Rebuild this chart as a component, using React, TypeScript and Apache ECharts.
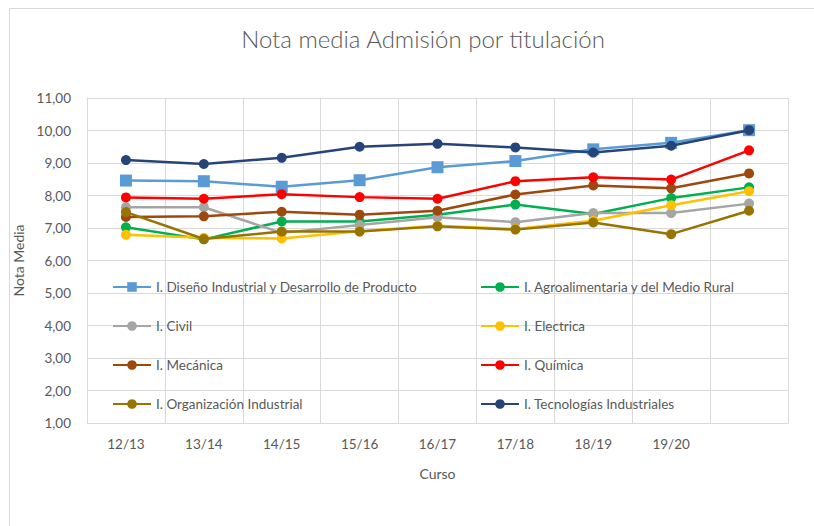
import React, { useEffect, useRef } from "react";
import * as echarts from "echarts";

const categories = ["12/13", "13/14", "14/15", "15/16", "16/17", "17/18", "18/19", "19/20", ""];

const disenoValues = [8.46, 8.44, 8.27, 8.47, 8.87, 9.06, 9.42, 9.62, 10.01];
const agroValues = [7.02, 6.65, 7.2, 7.2, 7.41, 7.72, 7.43, 7.92, 8.25];
const civilValues = [7.64, 7.64, 6.85, 7.09, 7.33, 7.18, 7.46, 7.46, 7.75];
const electricaValues = [6.79, 6.7, 6.68, 6.9, 7.07, 6.97, 7.22, 7.7, 8.13];
const mecanicaValues = [7.34, 7.36, 7.5, 7.41, 7.53, 8.03, 8.31, 8.22, 8.68];
const quimicaValues = [7.94, 7.9, 8.04, 7.95, 7.9, 8.44, 8.56, 8.49, 9.39];
const organizacionValues = [7.49, 6.66, 6.89, 6.89, 7.05, 6.95, 7.17, 6.81, 7.53];
const tecnologiasValues = [9.09, 8.97, 9.16, 9.5, 9.59, 9.48, 9.32, 9.53, 10.01];

const seriesNames = [
  "I. Diseño Industrial y Desarrollo de Producto",
  "I. Agroalimentaria y del Medio Rural",
  "I. Civil",
  "I. Electrica",
  "I. Mecánica",
  "I. Química",
  "I. Organización Industrial",
  "I. Tecnologías Industriales",
];
const seriesColors = ["#5B9BD5", "#00B050", "#A5A5A5", "#FFC000", "#9E480E", "#FF0000", "#997300", "#264478"];
const seriesData = [
  disenoValues,
  agroValues,
  civilValues,
  electricaValues,
  mecanicaValues,
  quimicaValues,
  organizacionValues,
  tecnologiasValues,
];

const FONT = "Lato, 'Open Sans', sans-serif";
const TEXT = "#595959";
const GRID = "#D9D9D9";

export default function App() {
  const ref = useRef<HTMLDivElement>(null);
  useEffect(() => {
    if (!ref.current) return;
    const chart = echarts.init(ref.current, undefined, { renderer: "svg" });
    const series = seriesNames.map((name, i) => ({
      name,
      type: "line",
      data: seriesData[i],
      symbol: i === 0 ? "rect" : "circle",
      symbolSize: i === 0 ? 12 : 10,
      showAllSymbol: true,
      lineStyle: { width: 2.5, color: seriesColors[i] },
      itemStyle: { color: seriesColors[i] },
      emphasis: { disabled: true },
      z: 2 + i,
    }));
    const legendCommon = {
      orient: "vertical",
      top: 275,
      itemGap: 25,
      itemWidth: 38,
      itemHeight: 12,
      textStyle: { fontFamily: FONT, fontSize: 13.5, color: TEXT },
      selectedMode: false,
    };
    chart.setOption({
      animation: false,
      backgroundColor: "#ffffff",
      title: {
        text: "Nota media Admisión por titulación",
        left: 418,
        top: 21,
        textAlign: "center",
        textStyle: { fontFamily: FONT, fontSize: 24, fontWeight: 300, color: TEXT },
      },
      graphic: [
        {
          type: "rect",
          shape: { x: 9.5, y: 8.5, width: 900, height: 700 },
          style: { fill: "none", stroke: GRID, lineWidth: 1 },
          silent: true,
        },
      ],
      legend: [
        { ...legendCommon, left: 107, data: [seriesNames[0], seriesNames[2], seriesNames[4], seriesNames[6]] },
        { ...legendCommon, left: 475, data: [seriesNames[1], seriesNames[3], seriesNames[5], seriesNames[7]] },
      ],
      grid: { left: 87, right: 26, top: 98, bottom: 103, containLabel: false },
      xAxis: {
        type: "category",
        data: categories,
        boundaryGap: true,
        name: "Curso",
        nameLocation: "middle",
        nameGap: 43,
        nameTextStyle: { fontFamily: FONT, fontSize: 14, color: TEXT },
        axisLine: { show: true, lineStyle: { color: GRID, width: 1 } },
        axisTick: { show: false },
        axisLabel: { interval: 0, fontFamily: FONT, fontSize: 13.5, color: TEXT, margin: 14 },
        splitLine: { show: true, interval: 0, lineStyle: { color: GRID, width: 1 } },
      },
      yAxis: {
        type: "value",
        min: 1,
        max: 11,
        interval: 1,
        name: "Nota Media",
        nameLocation: "middle",
        nameGap: 56,
        nameRotate: 90,
        nameTextStyle: { fontFamily: FONT, fontSize: 14, color: TEXT },
        axisLine: { show: true, lineStyle: { color: GRID, width: 1 } },
        axisTick: { show: false },
        axisLabel: {
          fontFamily: FONT,
          fontSize: 13.5,
          color: TEXT,
          margin: 16,
          formatter: (v: number) => v.toFixed(2).replace(".", ","),
        },
        splitLine: { show: true, lineStyle: { color: GRID, width: 1 } },
      },
      series,
    });
    return () => chart.dispose();
  }, []);
  return (
    <div
      ref={ref}
      style={{ position: "fixed", left: 0, top: 0, width: 814, height: 526 }}
    />
  );
}
